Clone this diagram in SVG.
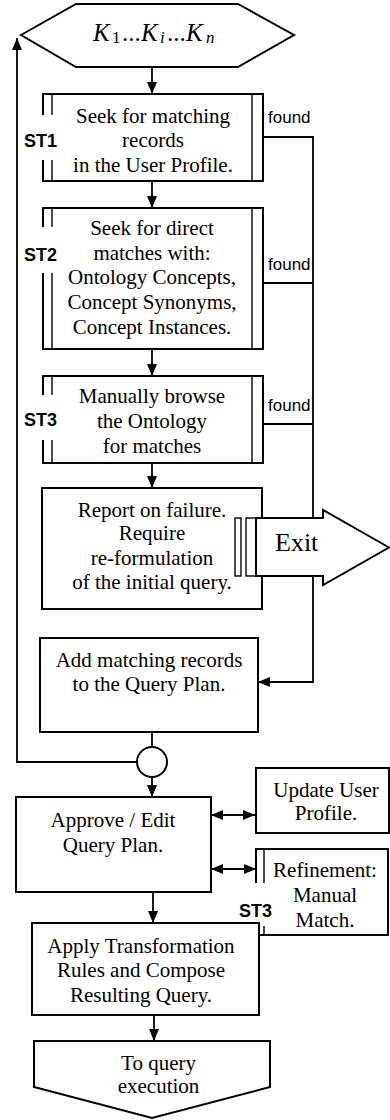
<svg xmlns="http://www.w3.org/2000/svg" width="390" height="1120" viewBox="0 0 390 1120">
<defs>
<marker id="ah" markerUnits="userSpaceOnUse" markerWidth="12" markerHeight="10" refX="12" refY="5" orient="auto-start-reverse" viewBox="0 0 12 10">
<path d="M0,0 L12,5 L0,10 z" fill="#000"/>
</marker>
</defs>
<style>
.box{fill:#fff;stroke:#000;stroke-width:2}
.ln{fill:none;stroke:#000;stroke-width:2}
.thin{fill:none;stroke:#000;stroke-width:1.4}
.bg{fill:#fff;stroke:none}
.c{fill:none;stroke:#000;stroke-width:1.8}
.ca{fill:none;stroke:#000;stroke-width:1.8;marker-end:url(#ah)}
.cb{fill:none;stroke:#000;stroke-width:1.8;marker-end:url(#ah);marker-start:url(#ah)}
</style>

<g id="input">
<polygon class="box" points="21,35 76,4 238,4 294,35 238,67 76,67"/>
<text font-family="Liberation Serif, Times New Roman, serif" font-size="25" y="41" fill="#000"><tspan x="93" font-style="italic">K</tspan><tspan x="112" font-size="17" dy="2">1</tspan><tspan x="122" dy="-2">...</tspan><tspan x="141" font-style="italic">K</tspan><tspan x="160" font-size="17" font-style="italic" dy="2">i</tspan><tspan x="167" dy="-2">...</tspan><tspan x="186" font-style="italic">K</tspan><tspan x="206" font-size="17" font-style="italic" dy="2">n</tspan></text>
</g>

<g id="connectors">
<path class="ca" d="M152,67 V94"/>
<path class="ca" d="M152,181 V208"/>
<path class="ca" d="M152,349 V376"/>
<path class="ca" d="M152,463 V488"/>
<path class="ca" d="M263,137 H313 V682 H258"/>
<path class="c" d="M263,283 H313"/>
<path class="c" d="M263,424 H313"/>
<path class="c" d="M152,732 V747"/>
<path class="ca" d="M152,777 V797"/>
<path class="ca" d="M137,762 H17 V38"/>
<path class="cb" d="M211,815 H255"/>
<path class="cb" d="M211,869 H256"/>
<path class="ca" d="M153,892 V923"/>
<path class="ca" d="M154,1015 V1041"/>
</g>

<g id="st1">
<rect class="bg" x="43" y="94" width="220" height="87"/>
<path class="ln" d="M43,115 V94 H263 V181 H43 V160"/>
<path class="thin" d="M52,94 V115 M52,160 V181 M252,94 V181"/>
<text font-family="Liberation Sans, Arial, sans-serif" font-size="18" font-weight="bold" x="24" y="147">ST1</text>
<g font-family="Liberation Serif, Times New Roman, serif" font-size="21" text-anchor="middle">
<text font-family="Liberation Serif, Times New Roman, serif" x="153" y="123">Seek for matching</text>
<text font-family="Liberation Serif, Times New Roman, serif" x="153" y="147">records</text>
<text font-family="Liberation Serif, Times New Roman, serif" x="153" y="172">in the User Profile.</text>
</g>
<text font-family="Liberation Sans, Arial, sans-serif" font-size="17" x="268" y="123">found</text>
</g>

<g id="st2">
<rect class="bg" x="43" y="208" width="220" height="141"/>
<path class="ln" d="M43,227 V208 H263 V349 H43 V273"/>
<path class="thin" d="M52,208 V227 M52,273 V349 M252,208 V349"/>
<text font-family="Liberation Sans, Arial, sans-serif" font-size="18" font-weight="bold" x="24" y="261">ST2</text>
<g font-family="Liberation Serif, Times New Roman, serif" font-size="21" text-anchor="middle">
<text font-family="Liberation Serif, Times New Roman, serif" x="152" y="235">Seek for direct</text>
<text font-family="Liberation Serif, Times New Roman, serif" x="152" y="260">matches with:</text>
<text font-family="Liberation Serif, Times New Roman, serif" x="152" y="284">Ontology Concepts,</text>
<text font-family="Liberation Serif, Times New Roman, serif" x="152" y="309">Concept Synonyms,</text>
<text font-family="Liberation Serif, Times New Roman, serif" x="152" y="334">Concept Instances.</text>
</g>
<text font-family="Liberation Sans, Arial, sans-serif" font-size="17" x="268" y="270">found</text>
</g>

<g id="st3">
<rect class="bg" x="43" y="376" width="220" height="87"/>
<path class="ln" d="M43,395 V376 H263 V463 H43 V440"/>
<path class="thin" d="M52,376 V395 M52,440 V463 M252,376 V463"/>
<text font-family="Liberation Sans, Arial, sans-serif" font-size="18" font-weight="bold" x="24" y="426">ST3</text>
<g font-family="Liberation Serif, Times New Roman, serif" font-size="21" text-anchor="middle">
<text font-family="Liberation Serif, Times New Roman, serif" x="152" y="403">Manually browse</text>
<text font-family="Liberation Serif, Times New Roman, serif" x="152" y="428">the Ontology</text>
<text font-family="Liberation Serif, Times New Roman, serif" x="152" y="453">for matches</text>
</g>
<text font-family="Liberation Sans, Arial, sans-serif" font-size="17" x="268" y="411">found</text>
</g>

<g id="report">
<rect class="box" x="42" y="488" width="220" height="121"/>
<g font-family="Liberation Serif, Times New Roman, serif" font-size="21" text-anchor="middle">
<text font-family="Liberation Serif, Times New Roman, serif" x="152" y="517">Report on failure.</text>
<text font-family="Liberation Serif, Times New Roman, serif" x="152" y="540">Require</text>
<text font-family="Liberation Serif, Times New Roman, serif" x="152" y="565">re-formulation</text>
<text font-family="Liberation Serif, Times New Roman, serif" x="152" y="589">of the initial query.</text>
</g>
</g>

<g id="exit">
<rect fill="#fff" stroke="#000" stroke-width="1.4" x="235" y="518" width="6" height="58"/>
<rect fill="#fff" stroke="#000" stroke-width="1.4" x="246" y="518" width="10" height="58"/>
<polygon class="box" points="256,518 323,518 323,510 389,547.5 323,585 323,576 256,576"/>
<text font-family="Liberation Serif, Times New Roman, serif" font-size="26" x="275" y="551" fill="#000">Exit</text>
</g>

<g id="add">
<rect class="box" x="40" y="638" width="218" height="94"/>
<g font-family="Liberation Serif, Times New Roman, serif" font-size="21" text-anchor="middle">
<text font-family="Liberation Serif, Times New Roman, serif" x="149" y="667">Add matching records</text>
<text font-family="Liberation Serif, Times New Roman, serif" x="149" y="691">to the Query Plan.</text>
</g>
</g>

<g id="junction">
<circle class="box" cx="152" cy="762" r="15"/>
</g>

<g id="approve">
<rect class="box" x="16" y="797" width="195" height="95"/>
<g font-family="Liberation Serif, Times New Roman, serif" font-size="21" text-anchor="middle">
<text font-family="Liberation Serif, Times New Roman, serif" x="113" y="827">Approve / Edit</text>
<text font-family="Liberation Serif, Times New Roman, serif" x="113" y="852">Query Plan.</text>
</g>
</g>

<g id="update">
<rect class="box" x="256" y="768" width="133" height="65"/>
<g font-family="Liberation Serif, Times New Roman, serif" font-size="21" text-anchor="middle">
<text font-family="Liberation Serif, Times New Roman, serif" x="326" y="797">Update User</text>
<text font-family="Liberation Serif, Times New Roman, serif" x="326" y="820">Profile.</text>
</g>
</g>

<g id="refine">
<rect class="bg" x="256" y="849" width="132" height="86"/>
<path class="ln" d="M256,883 V849 H388 V935 H256 V926"/>
<path class="thin" d="M264,849 V883 M264,926 V935"/>
<text font-family="Liberation Sans, Arial, sans-serif" font-size="18" font-weight="bold" x="239" y="917">ST3</text>
<g font-family="Liberation Serif, Times New Roman, serif" font-size="21" text-anchor="middle">
<text font-family="Liberation Serif, Times New Roman, serif" x="325" y="877">Refinement:</text>
<text font-family="Liberation Serif, Times New Roman, serif" x="325" y="902">Manual</text>
<text font-family="Liberation Serif, Times New Roman, serif" x="325" y="927">Match.</text>
</g>
</g>

<g id="apply">
<rect class="box" x="32" y="923" width="227" height="92"/>
<g font-family="Liberation Serif, Times New Roman, serif" font-size="21" text-anchor="middle">
<text font-family="Liberation Serif, Times New Roman, serif" x="141" y="953">Apply Transformation</text>
<text font-family="Liberation Serif, Times New Roman, serif" x="141" y="977">Rules and Compose</text>
<text font-family="Liberation Serif, Times New Roman, serif" x="141" y="1002">Resulting Query.</text>
</g>
</g>

<g id="output">
<polygon class="box" points="34,1041 270,1041 270,1087 152,1118 34,1087"/>
<g font-family="Liberation Serif, Times New Roman, serif" font-size="21" text-anchor="middle">
<text font-family="Liberation Serif, Times New Roman, serif" x="158.5" y="1070">To query</text>
<text font-family="Liberation Serif, Times New Roman, serif" x="158.5" y="1093">execution</text>
</g>
</g>
</svg>
